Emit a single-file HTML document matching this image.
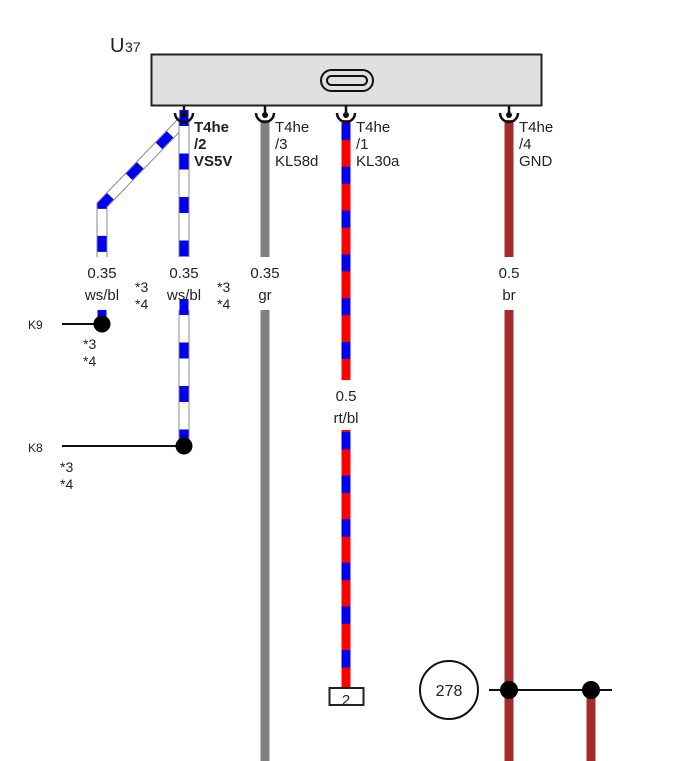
<!DOCTYPE html>
<html><head><meta charset="utf-8"><style>
html,body{margin:0;padding:0;background:#fff;}
svg{display:block;}
text{font-family:"Liberation Sans",sans-serif;fill:#222;}
</style></head><body>
<svg width="683" height="761" viewBox="0 0 683 761" xmlns="http://www.w3.org/2000/svg">
<text x="110" y="52" font-size="20">U</text><text x="125" y="52" font-size="14">37</text>
<rect x="151.5" y="54.5" width="390" height="51" fill="#e0e0e0" stroke="#222" stroke-width="2"/>
<rect x="321" y="70" width="52" height="21" rx="10.5" fill="none" stroke="#111" stroke-width="2"/>
<rect x="327" y="76" width="40" height="9" rx="4.5" fill="none" stroke="#111" stroke-width="2"/>

<g fill="none" stroke-linejoin="miter">
<path d="M184,120 L102,205 L102,257" stroke="#888" stroke-width="11"/>
<path d="M184,120 L102,205 L102,257" stroke="#fff" stroke-width="9"/>
<path d="M184,120 L102,205 L102,257" stroke="#0000ee" stroke-width="9" stroke-dasharray="16 27" stroke-dashoffset="-20"/>
<line x1="102" y1="310" x2="102" y2="324" stroke="#0000ee" stroke-width="9"/>
<line x1="184" y1="120" x2="184" y2="257" stroke="#888" stroke-width="11"/>
<line x1="184" y1="120" x2="184" y2="257" stroke="#fff" stroke-width="9"/>
<line x1="184" y1="110" x2="184" y2="257" stroke="#0000ee" stroke-width="9" stroke-dasharray="16 27.5"/>
<line x1="184" y1="310" x2="184" y2="446" stroke="#888" stroke-width="11"/>
<line x1="184" y1="310" x2="184" y2="446" stroke="#fff" stroke-width="9"/>
<line x1="184" y1="299" x2="184" y2="446" stroke="#0000ee" stroke-width="9" stroke-dasharray="16 27.5"/>
<line x1="265" y1="120" x2="265" y2="257" stroke="#808080" stroke-width="9"/>
<line x1="265" y1="310" x2="265" y2="761" stroke="#808080" stroke-width="9"/>
<line x1="346" y1="120" x2="346" y2="380" stroke="#ff0000" stroke-width="9"/>
<line x1="346" y1="123" x2="346" y2="380" stroke="#0000ee" stroke-width="9" stroke-dasharray="17 26.8"/>
<line x1="346" y1="430" x2="346" y2="688" stroke="#ff0000" stroke-width="9"/>
<line x1="346" y1="432" x2="346" y2="688" stroke="#0000ee" stroke-width="9" stroke-dasharray="17.5 26.1"/>
<line x1="509" y1="120" x2="509" y2="257" stroke="#a52a2a" stroke-width="9"/>
<line x1="509" y1="310" x2="509" y2="761" stroke="#a52a2a" stroke-width="9"/>
<line x1="591" y1="690" x2="591" y2="761" stroke="#a52a2a" stroke-width="9"/>
</g>

<g fill="none" stroke="#111" stroke-width="2.5">
<path d="M175,113 A9,9 0 0 0 193,113"/><line x1="184" y1="106" x2="184" y2="114"/>
<path d="M256,113 A9,9 0 0 0 274,113"/><line x1="265" y1="106" x2="265" y2="114"/>
<path d="M337,113 A9,9 0 0 0 355,113"/><line x1="346" y1="106" x2="346" y2="114"/>
<path d="M500,113 A9,9 0 0 0 518,113"/><line x1="509" y1="106" x2="509" y2="114"/>
</g>
<g fill="#111"><circle cx="184" cy="115" r="3"/><circle cx="265" cy="115" r="3"/><circle cx="346" cy="115" r="3"/><circle cx="509" cy="115" r="3"/></g>

<g font-size="15">
<text x="194" y="132" font-weight="bold">T4he</text><text x="194" y="149" font-weight="bold">/2</text><text x="194" y="166" font-weight="bold">VS5V</text>
<text x="275" y="132">T4he</text><text x="275" y="149">/3</text><text x="275" y="166">KL58d</text>
<text x="356" y="132">T4he</text><text x="356" y="149">/1</text><text x="356" y="166">KL30a</text>
<text x="519" y="132">T4he</text><text x="519" y="149">/4</text><text x="519" y="166">GND</text>
</g>
<g font-size="15" text-anchor="middle">
<text x="102" y="278">0.35</text><text x="102" y="300">ws/bl</text>
<text x="184" y="278">0.35</text><text x="184" y="300">ws/bl</text>
<text x="265" y="278">0.35</text><text x="265" y="300">gr</text>
<text x="346" y="401">0.5</text><text x="346" y="423">rt/bl</text>
<text x="509" y="278">0.5</text><text x="509" y="300">br</text>
</g>
<g font-size="14">
<text x="135" y="292">*3</text><text x="135" y="309">*4</text>
<text x="217" y="292">*3</text><text x="217" y="309">*4</text>
<text x="83" y="349">*3</text><text x="83" y="366">*4</text>
<text x="60" y="472">*3</text><text x="60" y="489">*4</text>
</g>
<g font-size="12"><text x="28" y="329">K9</text><text x="28" y="452">K8</text></g>
<g stroke="#111" stroke-width="2">
<line x1="62" y1="324" x2="102" y2="324"/>
<line x1="62" y1="446" x2="184" y2="446"/>
<line x1="489" y1="690" x2="612" y2="690"/>
</g>
<g fill="#000"><circle cx="102" cy="324" r="8.5"/><circle cx="184" cy="446" r="8.5"/><circle cx="509" cy="690" r="9"/><circle cx="591" cy="690" r="9"/></g>
<rect x="329.5" y="688" width="34" height="17" fill="#fff" stroke="#222" stroke-width="2"/>
<text x="346" y="705" font-size="15" text-anchor="middle">2</text>
<circle cx="449" cy="690" r="29" fill="#fff" stroke="#111" stroke-width="2"/>
<text x="449" y="696" font-size="16" text-anchor="middle">278</text>
</svg>
</body></html>
